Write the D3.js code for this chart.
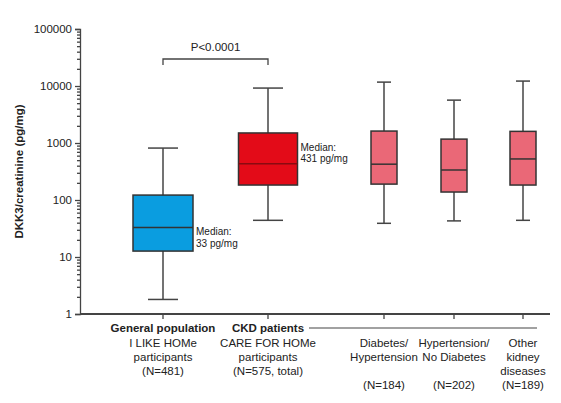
<!DOCTYPE html>
<html>
<head>
<meta charset="utf-8">
<script src="https://cdn.jsdelivr.net/npm/d3@7"></script>
<style>
  body { margin: 0; background: #fff; }
  text { font-family: "Liberation Sans", Arial, sans-serif; fill: #222; }
</style>
</head>
<body>
<script>
// groepen en boxplot waarden
var groups = ["general", "ckd", "diab", "hyp", "other"];
var whiskerLow = [1.8, 44, 39, 43, 44];
var q1 = [12.7, 183, 190, 138, 183];
var median = [33, 431, 425, 336, 525];
var q3 = [122, 1500, 1620, 1170, 1600];
var whiskerHigh = [815, 9200, 11700, 5650, 12200];
var boxColors = ["#0a9de0", "#e30b18", "#ea6877", "#ea6877", "#ea6877"];
var yTicks = [1, 10, 100, 1000, 10000, 100000];

// labels onder de x-as
var labelLines = [
  ["I LIKE HOMe", "participants", "(N=481)"],
  ["CARE FOR HOMe", "participants", "(N=575, total)"],
  ["Diabetes/", "Hypertension", "", "(N=184)"],
  ["Hypertension/", "No Diabetes", "", "(N=202)"],
  ["Other", "kidney", "diseases", "(N=189)"]
];
var boldLabels = ["General population", "CKD patients"];
var medianLabels = [["Median:", "33 pg/mg"], ["Median:", "431 pg/mg"]];

var width = 561, height = 403;
var margin = {top: 29, left: 80, bottom: 89, right: 11};

var svg = d3.select("body").append("svg")
  .attr("width", width)
  .attr("height", height);

var y = d3.scaleLog()
  .domain([1, 100000])
  .range([height - margin.bottom, margin.top]);

var centers = [163, 268, 384, 454, 523];
var x = d3.scaleOrdinal().domain(groups).range(centers);
var boxW = [60, 59, 26, 26, 26];
var capW = [30, 30, 14, 14, 14];

// y as met kleine ticks
var minor = [];
for (var e = 0; e < 5; e++) {
  for (var k = 2; k < 10; k++) minor.push(k * Math.pow(10, e));
}
var yAxis = d3.axisLeft(y).tickValues(yTicks).tickFormat(d3.format("d")).tickSize(5).tickPadding(3);
var yMinor = d3.axisLeft(y).tickValues(minor).tickFormat("").tickSize(3);

var gy = svg.append("g").attr("transform", "translate(" + margin.left + ",0)").call(yAxis);
svg.append("g").attr("transform", "translate(" + margin.left + ",0)").call(yMinor)
  .select(".domain").remove();
gy.selectAll("text").style("font-size", "11.5px").style("font-family", "Liberation Sans, Arial, sans-serif");
svg.selectAll(".domain, .tick line").attr("stroke", "#444").attr("stroke-width", 1.3);

// x as
var baseY = height - margin.bottom;
svg.append("line")
  .attr("x1", margin.left).attr("x2", 550)
  .attr("y1", baseY).attr("y2", baseY)
  .attr("stroke", "#444").attr("stroke-width", 2);
svg.selectAll(".xtick").data(groups).enter().append("line")
  .attr("x1", function(d){ return x(d); }).attr("x2", function(d){ return x(d); })
  .attr("y1", baseY).attr("y2", baseY + 5)
  .attr("stroke", "#444").attr("stroke-width", 1.3);

// boxplots
var box = svg.selectAll(".box").data(groups).enter().append("g").attr("class", "box");
box.append("line")
  .attr("x1", function(d){ return x(d); }).attr("x2", function(d){ return x(d); })
  .attr("y1", function(d, i){ return y(whiskerLow[i]); })
  .attr("y2", function(d, i){ return y(whiskerHigh[i]); })
  .attr("stroke", "#444").attr("stroke-width", 1.5);
[whiskerLow, whiskerHigh].forEach(function(arr){
  box.append("line")
    .attr("x1", function(d, i){ return x(d) - capW[i] / 2; })
    .attr("x2", function(d, i){ return x(d) + capW[i] / 2; })
    .attr("y1", function(d, i){ return y(arr[i]); })
    .attr("y2", function(d, i){ return y(arr[i]); })
    .attr("stroke", "#444").attr("stroke-width", 1.5);
});
box.append("rect")
  .attr("x", function(d, i){ return x(d) - boxW[i] / 2; })
  .attr("width", function(d, i){ return boxW[i]; })
  .attr("y", function(d, i){ return y(q3[i]); })
  .attr("height", function(d, i){ return y(q1[i]) - y(q3[i]); })
  .attr("fill", function(d, i){ return boxColors[i]; })
  .attr("stroke", "#333").attr("stroke-width", 1.5);
box.append("line")
  .attr("x1", function(d, i){ return x(d) - boxW[i] / 2; })
  .attr("x2", function(d, i){ return x(d) + boxW[i] / 2; })
  .attr("y1", function(d, i){ return y(median[i]); })
  .attr("y2", function(d, i){ return y(median[i]); })
  .attr("stroke", function(d, i){ return i == 1 ? "#8a0a10" : "#333"; })
  .attr("stroke-width", 1.5);

// mediaan labels (blauw onder de mediaan, rood erboven)
var medOffset = [8, -13];
medianLabels.forEach(function(lines, i){
  var g = groups[i];
  var t = svg.append("text")
    .attr("x", x(g) + boxW[i] / 2 + 3)
    .attr("y", y(median[i]) + medOffset[i])
    .style("font-size", "10px");
  lines.forEach(function(l, j){
    t.append("tspan").attr("x", x(g) + boxW[i] / 2 + 3).attr("dy", j == 0 ? 0 : 11.5).text(l);
  });
});

// p-waarde haak
var brY = 59;
svg.append("path")
  .attr("d", "M" + x("general") + "," + (brY + 6) + "V" + brY + "H" + x("ckd") + "V" + (brY + 6))
  .attr("fill", "none").attr("stroke", "#444").attr("stroke-width", 1.3);
svg.append("text")
  .attr("x", (x("general") + x("ckd")) / 2).attr("y", 51)
  .attr("text-anchor", "middle").style("font-size", "11.5px").text("P<0.0001");

// x labels
boldLabels.forEach(function(l, i){
  svg.append("text")
    .attr("x", x(groups[i])).attr("y", 332)
    .attr("text-anchor", "middle")
    .style("font-size", "11.5px").style("font-weight", "bold").text(l);
});
svg.append("line")
  .attr("x1", 309).attr("x2", 537).attr("y1", 328).attr("y2", 328)
  .attr("stroke", "#444").attr("stroke-width", 1.2);

labelLines.forEach(function(lines, i){
  lines.forEach(function(l, j){
    svg.append("text")
      .attr("x", x(groups[i])).attr("y", 347 + j * 14)
      .attr("text-anchor", "middle")
      .style("font-size", "11.5px").text(l);
  });
});

// y as titel
svg.append("text")
  .attr("transform", "translate(23," + ((margin.top + baseY) / 2) + ") rotate(-90)")
  .attr("text-anchor", "middle")
  .style("font-size", "11.5px").style("font-weight", "bold")
  .text("DKK3/creatinine (pg/mg)");
</script>
</body>
</html>
